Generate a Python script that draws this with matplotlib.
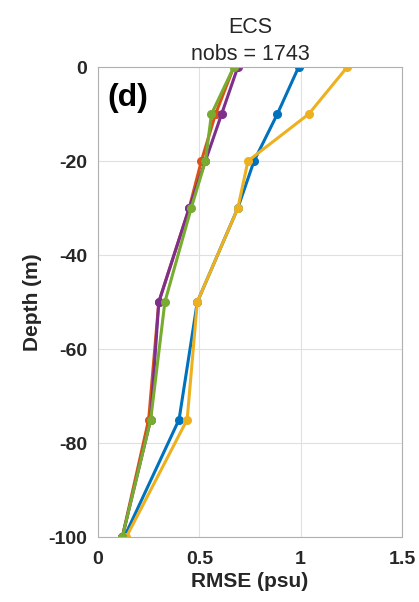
import numpy as np
import matplotlib.pyplot as plt

plt.rcParams['font.family'] = ['Liberation Sans', 'DejaVu Sans']
plt.rcParams['axes.unicode_minus'] = False

# depth levels (m) and RMSE per experiment
depth = [0, -10, -20, -30, -50, -75, -100]
rmse_blue = [0.99, 0.885, 0.77, 0.69, 0.49, 0.40, 0.13]
rmse_orange = [0.67, 0.58, 0.51, 0.45, 0.30, 0.25, 0.12]
rmse_yellow = [1.23, 1.04, 0.74, 0.69, 0.49, 0.44, 0.14]
rmse_purple = [0.69, 0.61, 0.53, 0.45, 0.30, 0.26, 0.12]
rmse_green = [0.67, 0.56, 0.53, 0.46, 0.33, 0.26, 0.12]

series = [
    (rmse_blue, '#0072BD'),
    (rmse_orange, '#D95319'),
    (rmse_yellow, '#EDB120'),
    (rmse_purple, '#7E2F8E'),
    (rmse_green, '#77AC30'),
]

fig = plt.figure(figsize=(4.19, 6.02), dpi=100)
ax = fig.add_axes([98 / 419, 1 - 537 / 602, 304 / 419, 470 / 602])

for vals, col in series:
    ax.plot(vals, depth, '-o', color=col, lw=2.2, ms=5.5)

ax.set_xlim(0, 1.5)
ax.set_ylim(-100, 0)
ax.set_xticks([0, 0.5, 1, 1.5])
ax.set_xticklabels(['0', '0.5', '1', '1.5'])
ax.set_yticks([-100, -80, -60, -40, -20, 0])
ax.grid(True, color='#e0e0e0', lw=0.8)
ax.tick_params(direction='in', length=0, labelsize=14, colors='#262626')
ax.tick_params(axis='x', pad=10)
ax.tick_params(axis='y', pad=8)
for lbl in ax.get_xticklabels() + ax.get_yticklabels():
    lbl.set_fontweight('bold')
for s in ax.spines.values():
    s.set_color('#b0b0b0')

ax.set_xlabel('RMSE (psu)', fontsize=15, fontweight='bold', color='#262626', labelpad=3)
ax.set_ylabel('Depth (m)', fontsize=15, fontweight='bold', color='#262626', labelpad=4)
ax.set_title('ECS\nnobs = 1743', fontsize=15.5, color='#262626', pad=5, linespacing=1.35)
ax.text(0.03, 0.965, '(d)', transform=ax.transAxes, fontsize=23, fontweight='bold',
        va='top', ha='left', color='black')

fig.savefig('out.png', dpi=100)
